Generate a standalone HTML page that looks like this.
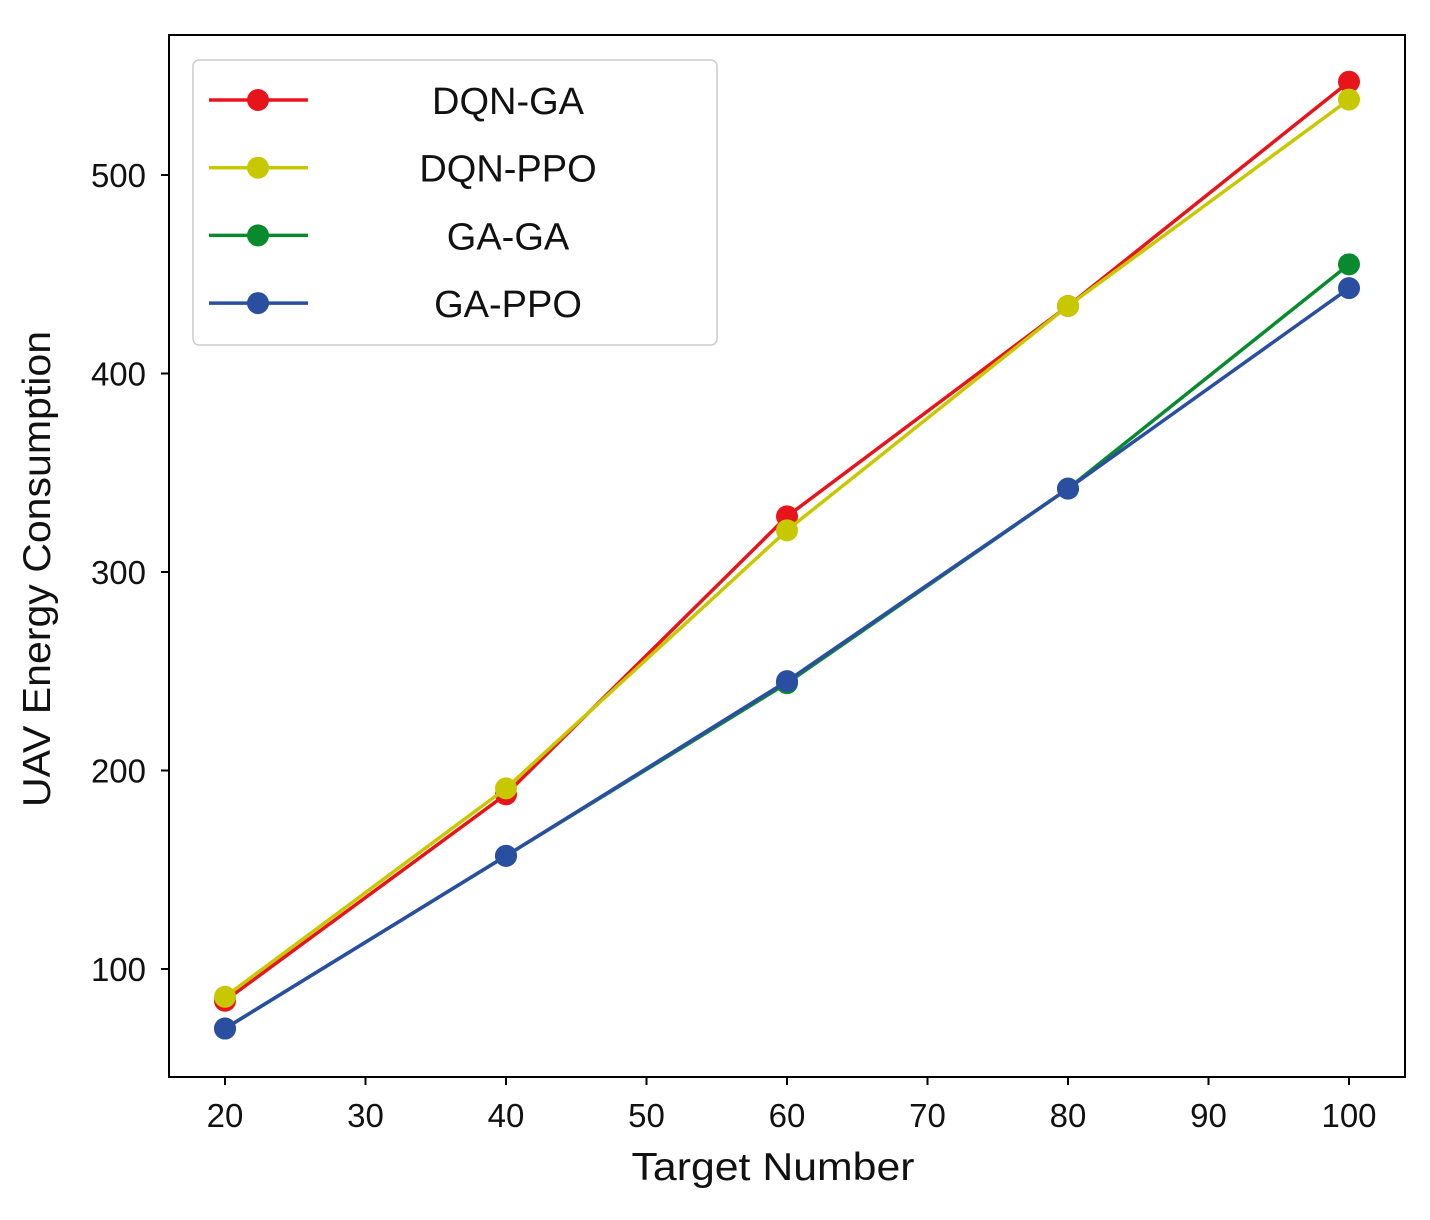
<!DOCTYPE html>
<html><head><meta charset="utf-8"><style>
body{margin:0;background:#fff;}
svg text{font-family:"Liberation Sans","DejaVu Sans",sans-serif;fill:#111;}
</style></head><body>
<svg id="chart" width="1430" height="1215" xmlns="http://www.w3.org/2000/svg">
<rect x="169" y="35" width="1236" height="1042" fill="none" stroke="#000" stroke-width="2"/>
<g id="axes"></g>
<g id="series"></g>
<text x="773" y="1180" font-size="39" text-anchor="middle" textLength="283" lengthAdjust="spacingAndGlyphs">Target Number</text>
<text transform="translate(50,569) rotate(-90)" font-size="39" text-anchor="middle" textLength="476" lengthAdjust="spacingAndGlyphs">UAV Energy Consumption</text>
<g>
<rect x="193" y="60" width="524" height="285" rx="6" fill="#fff" stroke="#ccc" stroke-width="1.5"/>
<g id="legend"></g>
</g>
</svg>
<script>
const categories=[20,40,60,80,100];
const seriesNames=["DQN-GA","DQN-PPO","GA-GA","GA-PPO"];
const dqnGa=[84,188,328,434,547];
const dqnPpo=[86,191,321,434,538];
const gaGa=[70,157,244,342,455];
const gaPpo=[70,157,245,342,443];
const colors=["#e8141c","#c8c800","#0a8a2e","#2b4fa0"];
const xTicks=[20,30,40,50,60,70,80,90,100];
const yTicks=[100,200,300,400,500];
const allSeries=[dqnGa,dqnPpo,gaGa,gaPpo];
const NS="http://www.w3.org/2000/svg";
function xs(v){return 225+(v-20)*(1349-225)/80;}
function ys(v){return 969-(v-100)*(969-175)/400;}
function mk(t,a,p){const e=document.createElementNS(NS,t);for(const k in a)e.setAttribute(k,a[k]);p.appendChild(e);return e;}
const axes=document.getElementById('axes');
xTicks.forEach(t=>{
 const l=mk('line',{x1:xs(t),x2:xs(t),y1:1077,y2:1085,stroke:'#000','stroke-width':2},axes);
 
 
 const tx=mk('text',{x:xs(t),y:1127,'font-size':33,'text-anchor':'middle'},axes);
 tx.textContent=t;
 
 
});
yTicks.forEach(t=>{
 const l=mk('line',{x1:161,x2:169,y1:ys(t),y2:ys(t),stroke:'#000','stroke-width':2},axes);
 
 
 const tx=mk('text',{x:146,y:ys(t)+12,'font-size':33,'text-anchor':'end'},axes);
 tx.textContent=t;
 
 
});
const sg=document.getElementById('series');
allSeries.forEach((s,i)=>{
 const g=mk('g',{},sg);
 
 
 const p=mk('polyline',{points:s.map((v,j)=>xs(categories[j])+','+ys(v)).join(' '),fill:'none',stroke:colors[i],'stroke-width':3.5},g);
 
 
 s.forEach((v,j)=>{
  const c=mk('circle',{cx:xs(categories[j]),cy:ys(v),r:11,fill:colors[i]},g);
  
  
 });
});
const lg=document.getElementById('legend');
seriesNames.forEach((n,i)=>{
 const y=100+i*67.7;
 const g=mk('g',{},lg);
 
 
 mk('line',{x1:209,x2:308,y1:y,y2:y,stroke:colors[i],'stroke-width':3.5},g);
 mk('circle',{cx:258,cy:y,r:11,fill:colors[i]},g);
 const t=mk('text',{x:508,y:y+14,'font-size':38,'text-anchor':'middle'},g);
 t.textContent=n;
});
</script>
</body></html>
